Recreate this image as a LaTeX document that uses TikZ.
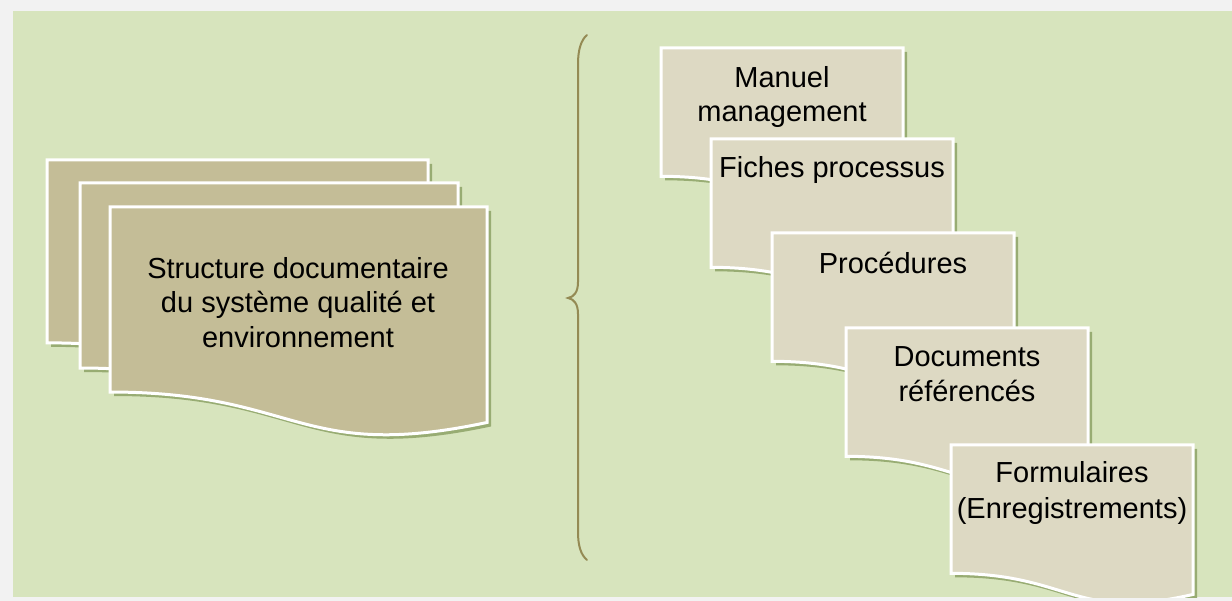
\documentclass[tikz,border=0pt]{standalone}
\usepackage{fontspec}
\setmainfont{Liberation Sans}
\definecolor{bggreen}{HTML}{D7E4BD}
\definecolor{outergray}{HTML}{F2F2F2}
\definecolor{darktan}{HTML}{C4BD97}
\definecolor{lighttan}{HTML}{DDD9C3}
\definecolor{shadowgreen}{HTML}{98AC73}
\definecolor{braceolive}{HTML}{948A54}
\newcommand{\docpath}[4]{%
  (#1,#2) -- ({#1+#3},#2) -- ({#1+#3},{#2+0.934*#4})
  .. controls ({#1+0.5*#3},{#2+1.1075*#4}) and ({#1+0.5*#3},{#2+0.802*#4}) .. (#1,{#2+0.802*#4}) -- cycle}
\newcommand{\docshape}[5]{%
  \fill[shadowgreen,shift={(4,4)}] \docpath{#1}{#2}{#3}{#4};
  \filldraw[fill=#5,draw=white,line width=3pt,line join=miter] \docpath{#1}{#2}{#3}{#4};}
\tikzset{
  doctext/.style={font=\fontsize{29}{34}\selectfont,anchor=base,inner sep=0pt,text=black},
  bracestyle/.style={draw=braceolive,line width=2pt,line cap=round}
}
\begin{document}
\begin{tikzpicture}[x=1pt,y=-1pt]
\useasboundingbox (0,0) rectangle (1232,601);
\fill[outergray] (0,0) rectangle (1232,601);
\fill[bggreen] (13,11) rectangle (1232,597);
% left stack
\docshape{47}{160}{381}{228}{darktan}
\docshape{80}{183}{378}{230.7}{darktan}
\docshape{110}{207}{377}{230.7}{darktan}
\node[doctext] (s1) at (298,278.5) {Structure documentaire};
\node[doctext] (s2) at (298,313) {du système qualité et};
\node[doctext] (s3) at (298,347.5) {environnement};
% brace
\coordinate (btop) at (587,35);
\coordinate (btip) at (568,298);
\coordinate (bbot) at (587,560);
\draw[bracestyle] (btop) .. controls (581,40) and (578,50) .. (578,64) -- (578,282)
  .. controls (578,292) and (574,297) .. (btip)
  .. controls (574,299) and (578,304) .. (578,314) -- (578,532)
  .. controls (578,546) and (581,555) .. (bbot);
% right stair
\docshape{661}{48}{242}{160}{lighttan}
\node[doctext] (m1) at (782,87.5) {Manuel};
\node[doctext] (m2) at (782,121.5) {management};
\docshape{711}{139}{242}{160}{lighttan}
\node[doctext] (f1) at (832,177.5) {Fiches processus};
\docshape{772}{233}{242}{160}{lighttan}
\node[doctext] (p1) at (893,273.5) {Procédures};
\docshape{846}{328}{242}{160}{lighttan}
\node[doctext] (d1) at (967,366.5) {Documents};
\node[doctext] (d2) at (967,401.5) {référencés};
\docshape{951}{445}{242}{160}{lighttan}
\node[doctext] (r1) at (1072,482.5) {Formulaires};
\node[doctext] (r2) at (1072,518.5) {(Enregistrements)};
\fill[outergray] (0,598) rectangle (1232,601);
\end{tikzpicture}
\end{document}
